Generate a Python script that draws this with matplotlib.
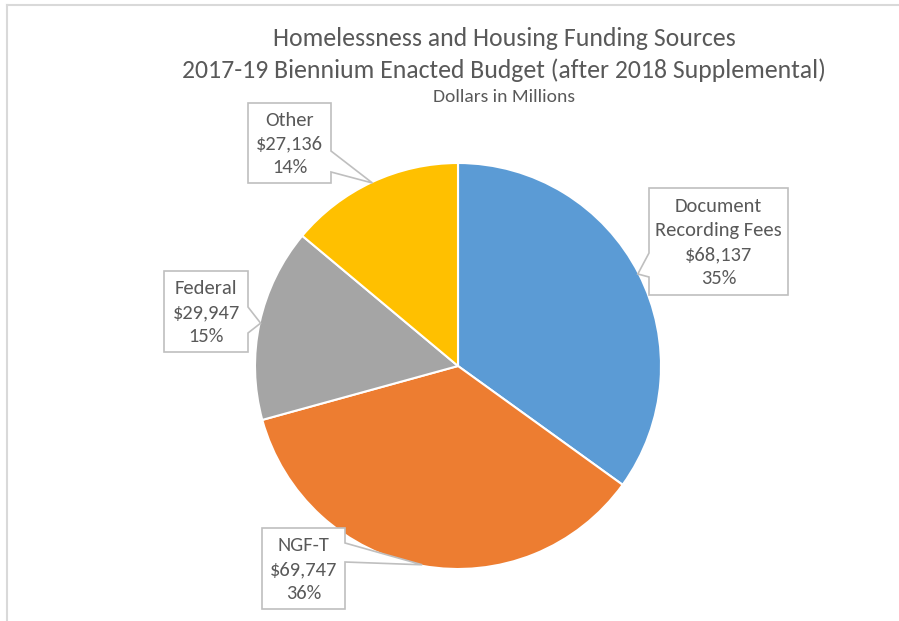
#!/usr/bin/env python3

# Homelessness and housing funding sources pie, redrawn with matplotlib.

import numpy as np
import matplotlib
matplotlib.use('Agg')
import matplotlib.pyplot as plt
from matplotlib import font_manager
from matplotlib.patches import Polygon
from matplotlib.lines import Line2D


labels = ['Document\nRecording Fees', 'NGF-T', 'Federal', 'Other']
values = [68137, 69747, 29947, 27136]
percents = ['35%', '36%', '15%', '14%']
colors = ['#5B9BD5', '#ED7D31', '#A5A5A5', '#FFC000']

# callout boxes in figure pixels: (left, top, right, bottom, side of pointer,
# pointer base start, pointer base end)
boxes = [
    (649, 188, 788, 295, 'left', 253, 277),
    (262, 528, 345, 609, 'right', 543, 562),
    (164, 271, 248, 352, 'right', 307, 333),
    (248, 103, 331, 183, 'right', 151, 172),
]

W, H = 899, 621
CX, CY, R = 458, 366, 203
TITLE_X = 504

avail = {f.name for f in font_manager.fontManager.ttflist}
family = 'DejaVu Sans'
for name in ['Carlito', 'Liberation Sans Narrow', 'Open Sans']:
    if name in avail:
        family = name
        break
plt.rcParams['font.family'] = [family, 'DejaVu Sans']

TEXT = '#595959'

fig = plt.figure(figsize=(W / 100, H / 100), dpi=100)
ax = fig.add_axes([(CX - R) / W, (H - CY - R) / H, 2 * R / W, 2 * R / H])

wedges, _ = ax.pie(values, colors=colors, startangle=90, counterclock=False,
                   wedgeprops=dict(edgecolor='white', linewidth=1.5))
ax.set_xlim(-1, 1)
ax.set_ylim(-1, 1)
ax.set_aspect('equal')
ax.axis('off')


def px(x, y):
    return (x - CX) / R, (CY - y) / R


for w, lab, val, pct, box in zip(wedges, labels, values, percents, boxes):
    l, t, r, b, side, s0, s1 = box
    mid = np.deg2rad((w.theta1 + w.theta2) / 2)
    tip = (0.995 * np.cos(mid), 0.995 * np.sin(mid))
    if side == 'right':
        pts = [px(l, t), px(r, t), px(r, s0), tip, px(r, s1),
               px(r, b), px(l, b)]
    else:
        pts = [px(l, t), px(r, t), px(r, b), px(l, b), px(l, s1),
               tip, px(l, s0)]
    ax.add_patch(Polygon(pts, closed=True, facecolor='white',
                         edgecolor='#BFBFBF', linewidth=1.2,
                         clip_on=False, zorder=5))
    txt = '%s\n$%s\n%s' % (lab, format(val, ','), pct)
    cx, cy = px((l + r) / 2, (t + b) / 2 + 1)
    ax.text(cx, cy, txt.replace('$', r'\$'), ha='center', va='center',
            fontsize=14.8, color=TEXT, linespacing=1.48, zorder=6)

fig.text(TITLE_X / W, 1 - 38 / H, 'Homelessness and Housing Funding Sources',
         ha='center', va='center', fontsize=18.5, color=TEXT)
fig.text(TITLE_X / W, 1 - 70 / H,
         '2017-19 Biennium Enacted Budget (after 2018 Supplemental)',
         ha='center', va='center', fontsize=18.5, color=TEXT)
fig.text(TITLE_X / W, 1 - 97 / H, 'Dollars in Millions',
         ha='center', va='center', fontsize=14, color=TEXT)

# light frame on the left and top edges
fig.add_artist(Line2D([7 / W, 7 / W], [0, 1 - 4.5 / H],
                      transform=fig.transFigure, color='#D9D9D9', lw=1.5))
fig.add_artist(Line2D([7 / W, 1], [1 - 4.5 / H, 1 - 4.5 / H],
                      transform=fig.transFigure, color='#D9D9D9', lw=1.5))

fig.savefig('out.png', dpi=100, facecolor='white')
